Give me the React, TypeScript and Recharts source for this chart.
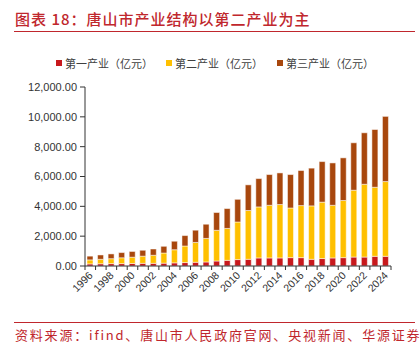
import React from "react";
import { BarChart, Bar, XAxis, YAxis } from "recharts";

const years = [
  "1996", "1997", "1998", "1999", "2000", "2001", "2002", "2003", "2004", "2005",
  "2006", "2007", "2008", "2009", "2010", "2011", "2012", "2013", "2014", "2015",
  "2016", "2017", "2018", "2019", "2020", "2021", "2022", "2023", "2024",
];

// 第一产业（亿元）
const primary = [
  140, 150, 160, 160, 170, 180, 180, 190, 210, 230,
  250, 270, 335, 380, 430, 450, 540, 540, 540, 560,
  560, 450, 500, 540, 560, 600, 600, 650, 650,
];

// 第二产业（亿元）
const secondary = [
  270, 300, 330, 390, 420, 480, 540, 680, 880, 1110,
  1330, 1580, 2060, 2140, 2520, 3270, 3420, 3530, 3580, 3330,
  3490, 3580, 3780, 3530, 3830, 4480, 4880, 4630, 5010,
];

// 第三产业（亿元）
const tertiary = [
  250, 290, 320, 350, 385, 395, 420, 450, 570, 700,
  820, 950, 1190, 1330, 1520, 1720, 1900, 2060, 2120, 2240,
  2350, 2530, 2720, 2840, 2860, 3180, 3450, 3870, 4370,
];

const yTicks = [0, 2000, 4000, 6000, 8000, 10000, 12000];

const seriesNames = ["第一产业（亿元）", "第二产业（亿元）", "第三产业（亿元）"];
const seriesColors = ["#C8181C", "#FFC000", "#A8470D"];
const seriesKeys = ["primary", "secondary", "tertiary"];

const data = years.map((y, i) => ({
  year: y,
  primary: primary[i],
  secondary: secondary[i],
  tertiary: tertiary[i],
}));

const titleText = "图表 18：唐山市产业结构以第二产业为主";
const sourceText = "资料来源：ifind、唐山市人民政府官网、央视新闻、华源证券";

const RED = "#C0272D";

const XTick = (props: any) => {
  const { x, y, payload, index, width, visibleTicksCount } = props;
  const half = width / visibleTicksCount / 2;
  const showLabel = index % 2 === 0;
  return (
    <g>
      <line x1={x - half} y1={y - 8} x2={x - half} y2={y - 4} stroke="#333" strokeWidth={1} />
      {index === visibleTicksCount - 1 && (
        <line x1={x + half} y1={y - 8} x2={x + half} y2={y - 4} stroke="#333" strokeWidth={1} />
      )}
      {showLabel && (
        <text
          x={x + 3}
          y={y + 2}
          textAnchor="end"
          transform={`rotate(-45, ${x + 3}, ${y + 2})`}
          fontSize={10.5}
          fill="#333"
          fontFamily="'Liberation Sans', Arial, sans-serif"
        >
          {payload.value}
        </text>
      )}
    </g>
  );
};

export default function App() {
  return (
    <div
      style={{
        position: "absolute",
        left: 0,
        top: 0,
        width: 420,
        height: 345,
        background: "#fff",
        fontFamily: "'Noto Sans CJK SC', sans-serif",
      }}
    >
      <div
        style={{
          position: "absolute",
          left: 15,
          top: 9,
          fontSize: 15,
          lineHeight: "20px",
          color: RED,
          letterSpacing: 1,
          fontWeight: 500,
          whiteSpace: "nowrap",
        }}
      >
        {titleText}
      </div>
      <div style={{ position: "absolute", left: 14, top: 31, width: 401, height: 1, background: RED }} />

      <div
        style={{
          position: "absolute",
          top: 56,
          left: 0,
          width: 420,
          height: 14,
        }}
      >
        {seriesNames.map((n, i) => (
          <div
            key={n}
            style={{
              position: "absolute",
              left: [56, 166, 277][i],
              top: 0,
              display: "flex",
              alignItems: "center",
              fontSize: 11,
              lineHeight: "14px",
              color: "#404040",
              whiteSpace: "nowrap",
            }}
          >
            <span style={{ display: "inline-block", width: 6, height: 6, background: seriesColors[i], marginRight: 3 }} />
            {n}
          </div>
        ))}
      </div>

      <div style={{ position: "absolute", left: 0, top: 0 }}>
        <BarChart
          width={420}
          height={345}
          data={data}
          margin={{ top: 87, right: 29, bottom: 49, left: 15 }}
          barSize={6}
        >
          <XAxis
            dataKey="year"
            interval={0}
            tickLine={false}
            axisLine={{ stroke: "#333" }}
            tick={<XTick />}
            height={30}
          />
          <YAxis
            domain={[0, 12000]}
            ticks={yTicks}
            width={70}
            tickSize={5}
            tickMargin={3}
            axisLine={{ stroke: "#333" }}
            tickLine={{ stroke: "#333" }}
            tick={{ fontSize: 11, fill: "#333", fontFamily: "'Liberation Sans', Arial, sans-serif" }}
            tickFormatter={(v: number) =>
              v.toLocaleString("en-US", { minimumFractionDigits: 2, maximumFractionDigits: 2 })
            }
          />
          {seriesKeys.map((k, i) => (
            <Bar
              key={k}
              dataKey={k}
              name={seriesNames[i]}
              stackId="a"
              fill={seriesColors[i]}
              stroke="#fff"
              strokeWidth={0.5}
              isAnimationActive={false}
            />
          ))}
        </BarChart>
      </div>

      <div style={{ position: "absolute", left: 14, top: 322, width: 401, height: 1, background: RED }} />
      <div
        style={{
          position: "absolute",
          left: 15,
          top: 326,
          fontSize: 13,
          lineHeight: "18px",
          color: RED,
          letterSpacing: 1.8,
          whiteSpace: "nowrap",
        }}
      >
        {sourceText}
      </div>
    </div>
  );
}
